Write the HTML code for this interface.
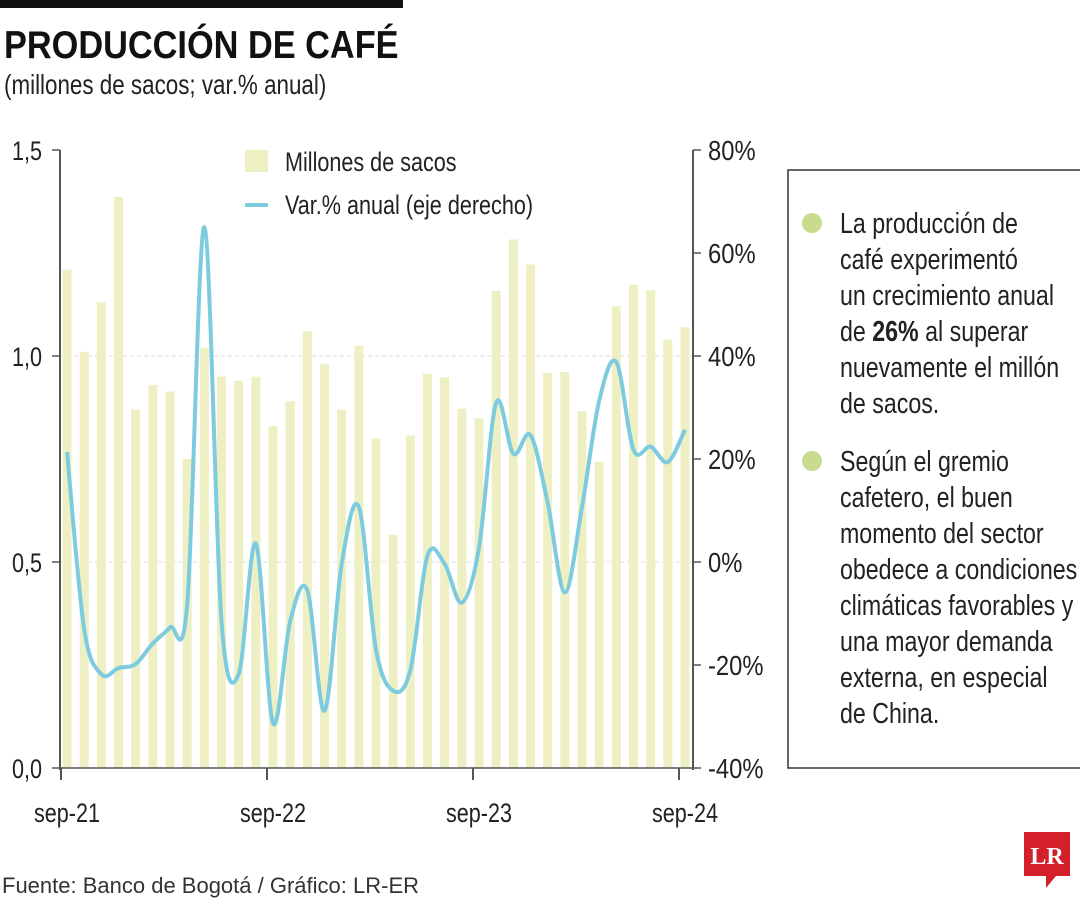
<!DOCTYPE html>
<html><head><meta charset="utf-8"><style>
html,body{margin:0;padding:0;background:#fff;}
svg{display:block;font-family:"Liberation Sans",sans-serif;}
.n{transform-box:fill-box;transform-origin:left center;transform:scaleX(0.8);}
.n88{transform-box:fill-box;transform-origin:left center;transform:scaleX(0.88);}
.n85{transform-box:fill-box;transform-origin:left center;transform:scaleX(0.85);}
.nr{transform-box:fill-box;transform-origin:right center;transform:scaleX(0.8);}
.nc{transform-box:fill-box;transform-origin:center center;transform:scaleX(0.8);}
</style></head><body>
<svg id="c" width="1080" height="900" viewBox="0 0 1080 900">
<rect x="0" y="0" width="403" height="8" fill="#111"/>
<text x="4" y="58" font-size="39" font-weight="bold" fill="#111" class="n88">PRODUCCIÓN DE CAFÉ</text>
<text x="4" y="94" font-size="28" fill="#222" class="n">(millones de sacos; var.% anual)</text>
<g id="grid"></g>
<g id="bars"></g>
<path id="line" fill="none" stroke="#7ecbe0" stroke-width="4"/>
<g id="axes"></g>
<g>
<rect x="245" y="150" width="23" height="22" fill="#eef0c4"/>
<text x="285" y="171" font-size="27" fill="#222" class="n">Millones de sacos</text>
<line x1="245" y1="205" x2="268" y2="205" stroke="#7ecbe0" stroke-width="4"/>
<text x="285" y="214" font-size="27" fill="#222" class="n">Var.% anual (eje derecho)</text>
</g>
<g>
<path d="M1080 170 H788 V768 H1080" fill="none" stroke="#333" stroke-width="1.5"/>
<circle cx="812" cy="223" r="10" fill="#c8dc8f"/>
<circle cx="812" cy="461" r="10" fill="#c8dc8f"/>
<g font-size="29" fill="#222">
<text x="840" y="233" class="n">La producción de</text>
<text x="840" y="269" class="n">café experimentó</text>
<text x="840" y="305" class="n">un crecimiento anual</text>
<text x="840" y="341" class="n">de <tspan font-weight="bold">26%</tspan> al superar</text>
<text x="840" y="377" class="n">nuevamente el millón</text>
<text x="840" y="413" class="n">de sacos.</text>
<text x="840" y="471" class="n">Según el gremio</text>
<text x="840" y="507" class="n">cafetero, el buen</text>
<text x="840" y="543" class="n">momento del sector</text>
<text x="840" y="579" class="n">obedece a condiciones</text>
<text x="840" y="615" class="n">climáticas favorables y</text>
<text x="840" y="651" class="n">una mayor demanda</text>
<text x="840" y="687" class="n">externa, en especial</text>
<text x="840" y="723" class="n">de China.</text>
</g>
</g>
<text x="2" y="893" font-size="22" fill="#333">Fuente: Banco de Bogotá / Gráfico: LR-ER</text>
<g>
<path d="M1024 832 H1070 V876 H1056 L1046 888 V876 H1024 Z" fill="#d4202a"/>
<text x="1047" y="864" font-size="24" font-weight="bold" fill="#fff" text-anchor="middle" font-family="Liberation Serif,serif">LR</text>
</g>
</svg>
<script>
const months = ["sep-21","oct-21","nov-21","dic-21","ene-22","feb-22","mar-22","abr-22","may-22","jun-22","jul-22","ago-22","sep-22","oct-22","nov-22","dic-22","ene-23","feb-23","mar-23","abr-23","may-23","jun-23","jul-23","ago-23","sep-23","oct-23","nov-23","dic-23","ene-24","feb-24","mar-24","abr-24","may-24","jun-24","jul-24","ago-24","sep-24"];
const sacks = [1.21,1.01,1.13,1.386,0.87,0.93,0.914,0.75,1.02,0.95,0.94,0.95,0.83,0.89,1.06,0.98,0.87,1.025,0.80,0.566,0.807,0.957,0.948,0.872,0.849,1.158,1.283,1.222,0.959,0.961,0.866,0.743,1.121,1.173,1.16,1.04,1.07];
const yoy = [21.4,-13,-21.8,-20.6,-19.8,-15.8,-12.7,-8.3,65,-11.5,-21.8,3.6,-31.3,-11.5,-5.5,-28.9,-0.4,10.7,-17,-25,-21,1.2,-0.4,-7.9,2.8,30.9,21,24.6,11.5,-5.9,10.7,31.3,38.8,21.8,22.4,19.4,25.7];
const leftTicks = [0,0.5,1.0,1.5];
const leftLabels = ["0,0","0,5","1,0","1,5"];
const rightTicks = [-40,-20,0,20,40,60,80];
const xTickLabels = ["sep-21","sep-22","sep-23","sep-24"];

const NS="http://www.w3.org/2000/svg";
const y0=768, yTop=150;
const yL=v=>y0-(v/1.5)*(y0-yTop);
const yR=v=>y0-((v+40)/120)*(y0-yTop);
const xB=i=>67+i*(685-67)/(months.length-1);
function mk(t,a,p){const e=document.createElementNS(NS,t);for(const k in a)e.setAttribute(k,a[k]);p.appendChild(e);return e;}
const grid=document.getElementById('grid'),bars=document.getElementById('bars'),axes=document.getElementById('axes');
[0.5,1.0].forEach(v=>{
  const l=mk('line',{x1:60,x2:693,y1:yL(v),y2:yL(v),stroke:'#ddd','stroke-dasharray':'4 3'},grid);
  
  
});
sacks.forEach((v,i)=>{
  const r=mk('rect',{x:xB(i)-4.5,y:yL(v),width:9,height:y0-yL(v),fill:'#eef0c4'},bars);
  
  
});
const pts=yoy.map((v,i)=>[xB(i),yR(v)]);
let d='M'+pts[0][0]+' '+pts[0][1];
for(let i=0;i<pts.length-1;i++){
  const p0=pts[Math.max(0,i-1)],p1=pts[i],p2=pts[i+1],p3=pts[Math.min(pts.length-1,i+2)];
  const c1=[p1[0]+(p2[0]-p0[0])/6,p1[1]+(p2[1]-p0[1])/6];
  const c2=[p2[0]-(p3[0]-p1[0])/6,p2[1]-(p3[1]-p1[1])/6];
  d+=` C${c1[0]} ${c1[1]} ${c2[0]} ${c2[1]} ${p2[0]} ${p2[1]}`;
}
document.getElementById('line').setAttribute('d',d);
let a=mk('line',{x1:60,x2:60,y1:yTop,y2:y0+2,stroke:'#555','stroke-width':2},axes);


a=mk('line',{x1:693,x2:693,y1:yTop,y2:y0+2,stroke:'#555','stroke-width':2},axes);


a=mk('line',{x1:60,x2:693,y1:y0,y2:y0,stroke:'#555','stroke-width':1.5},axes);


leftTicks.forEach((v,i)=>{
  mk('line',{x1:52,x2:60,y1:yL(v),y2:yL(v),stroke:'#555','stroke-width':1.5},axes);
  const t=mk('text',{x:42,y:yL(v)+10,'font-size':27,fill:'#222','text-anchor':'end',class:'nr'},axes);
  t.textContent=leftLabels[i];
  
  
});
rightTicks.forEach(v=>{
  mk('line',{x1:693,x2:701,y1:yR(v),y2:yR(v),stroke:'#555','stroke-width':1.5},axes);
  const t=mk('text',{x:708,y:yR(v)+10,'font-size':28,fill:'#222',class:'n85'},axes);
  t.textContent=v+'%';
  
  
});
xTickLabels.forEach(lab=>{
  const i=months.indexOf(lab);const x=xB(i)-6;
  mk('line',{x1:x,x2:x,y1:y0,y2:y0+12,stroke:'#555','stroke-width':2},axes);
  const t=mk('text',{x:x+6,y:822,'font-size':27,fill:'#222','text-anchor':'middle',class:'nc'},axes);
  t.textContent=lab;
  
  
});
</script>
</body></html>
